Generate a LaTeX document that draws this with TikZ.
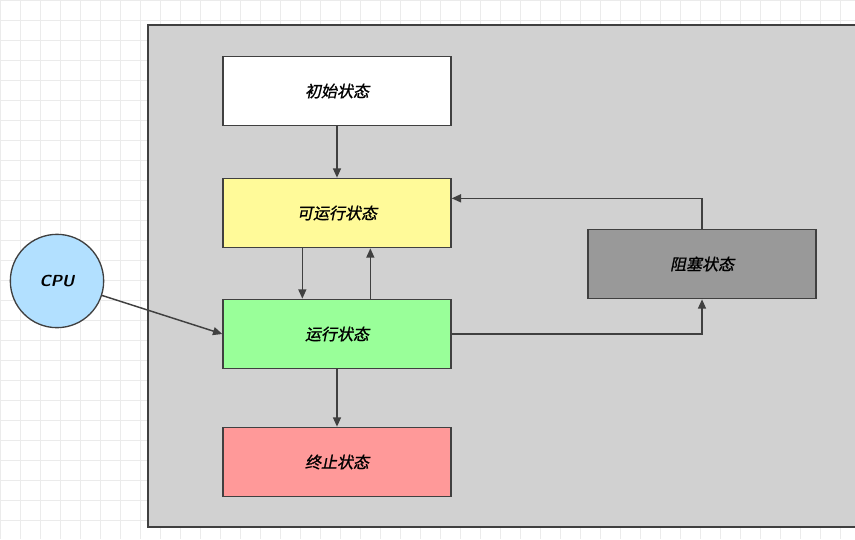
\documentclass[tikz,border=0pt]{standalone}
\usepackage{fontspec}
\newfontfamily\cjk[FakeSlant=0.2,FakeBold=1]{Noto Sans CJK SC}
\usetikzlibrary{arrows.meta,positioning}
\begin{document}
\begin{tikzpicture}[x=0.75pt,y=-0.75pt,
    statebox/.style={draw=black!75, line width=1pt, minimum width=171pt, minimum height=52pt,
        inner sep=0pt, font=\cjk\large},
    flow/.style={-{Triangle[length=7pt,width=6pt]}, line width=1.1pt, black!75},
]
\useasboundingbox (0,0) rectangle (855,539);
% grid
\foreach \gx in {0,20,...,840} \draw[black!8, line width=0.4pt] (\gx,0) -- (\gx,539);
\foreach \gy in {0,20,...,530} \draw[black!8, line width=0.4pt] (0,\gy) -- (855,\gy);
% panel
\draw[fill=black!18, draw=black!75, line width=1pt] (148,25) rectangle (858,527);

\node[statebox, fill=white] (init) at (337,91) {初始状态};
\node[statebox, fill=yellow!40] (ready) at (337,213) {可运行状态};
\node[statebox, fill=green!40] (run) at (337,334) {运行状态};
\node[statebox, fill=red!40] (stop) at (337,462) {终止状态};
\node[statebox, fill=black!40] (block) at (702,264) {阻塞状态};
\node[circle, draw=black!75, line width=1pt, fill=blue!40!cyan!30, minimum size=70pt,
    font=\sffamily\bfseries\itshape\large] (cpu) at (57,281) {CPU};

\draw[flow] (init) -- (ready);
\draw[flow] ([xshift=-26pt]ready.south) -- ([xshift=-26pt]run.north);
\draw[flow] ([xshift=25pt]run.north) -- ([xshift=25pt]ready.south);
\draw[flow] (run) -- (stop);
\draw[flow] (cpu) -- (run.west);
\draw[flow] (run.east) -| (block.south);
\draw[flow] (block.north) |- ([yshift=11pt]ready.east);
\end{tikzpicture}
\end{document}
